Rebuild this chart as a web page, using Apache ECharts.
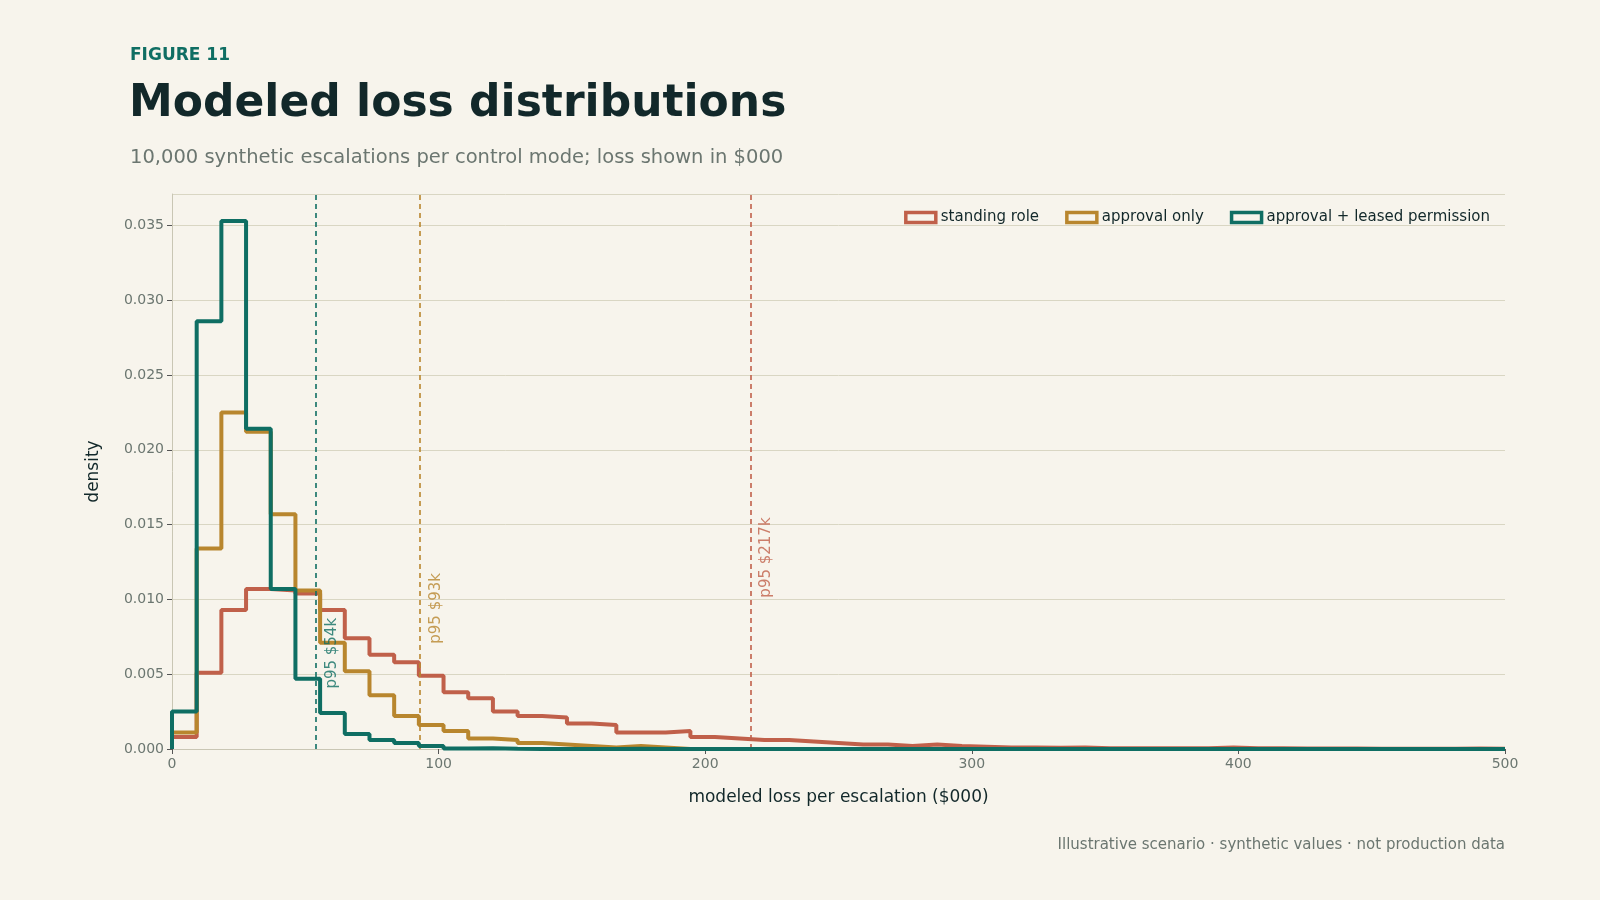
<!DOCTYPE html>
<html><head><meta charset="utf-8">
<script src="https://cdn.jsdelivr.net/npm/echarts@6/dist/echarts.min.js"></script>
<style>html,body{margin:0;background:#f7f4ec}#c{width:1600px;height:900px}</style>
</head><body><div id="c"></div>
<script>
const binWidth = 500/54;
const standingRole = [0.0008,0.0051,0.0093,0.0107,0.0106,0.0104,0.0093,0.0074,0.0063,0.0058,0.0049,0.0038,0.0034,0.0025,0.0022,0.0021,0.0017,0.0016,0.0011,0.0011,0.0012,0.0008,0.0007,0.0006,0.0006,0.0005,0.0004,0.0003,0.0003,0.0002,0.0003,0.0002,0.00015,0.0001,0.0001,0.00008,0.0001,0.00005,0.00005,0.00005,0.00005,0.00005,0.0001,0.00005,0.00005,0.00004,0.00003,0.00004,0.00002,0.00002,0.00002,0.00002,0.00003,0.00002];
const approvalOnly = [0.0011,0.0134,0.0225,0.0212,0.0157,0.0106,0.0071,0.0052,0.0036,0.0022,0.0016,0.0012,0.0007,0.0006,0.0004,0.0003,0.0002,0.0001,0.0002,0.0001,0,0,0,0,0,0,0,0,0,0,0,0,0,0,0,0,0,0,0,0,0,0,0,0,0,0,0,0,0,0,0,0,0,0];
const approvalLeased = [0.0025,0.0286,0.0353,0.0214,0.0107,0.0047,0.0024,0.0010,0.0006,0.0004,0.0002,0.00003,0.00005,0.00002,0,0,0,0,0.00002,0,0,0,0,0,0,0,0,0,0,0,0,0,0,0,0,0,0,0,0,0,0,0,0,0,0,0,0,0,0,0,0,0,0,0];
const seriesNames = ['standing role','approval only','approval + leased permission'];
const p95 = [217, 93, 54];
const colors = ['#c0604a','#b8862e','#0f6e63'];

function stepPts(arr){
  const pts=[[0,0]];
  arr.forEach((d,i)=>{pts.push([i*binWidth,d]);pts.push([(i+1)*binWidth,d]);});
  pts.push([arr.length*binWidth,0]);
  return pts;
}
const labelY = [0.0128, 0.0094, 0.0064];
const data=[standingRole,approvalOnly,approvalLeased];
const series=[];
data.forEach((arr,i)=>{
  series.push({name:seriesNames[i],type:'line',data:stepPts(arr),symbol:'none',
    lineStyle:{color:colors[i],width:4},itemStyle:{color:colors[i]},z:3+i,
    markLine:{symbol:'none',silent:true,label:{show:false},
      lineStyle:{color:colors[i],type:[5,4],width:1.6},data:[{xAxis:p95[i]}]}});
  series.push({type:'scatter',data:[[p95[i]+6,labelY[i]]],symbolSize:0,silent:true,z:10,
    label:{show:true,formatter:'p95 $'+p95[i]+'k',rotate:90,position:'inside',align:'center',verticalAlign:'middle',
      color:colors[i],fontSize:15,fontFamily:'DejaVu Sans'}});
});
const ch=echarts.init(document.getElementById('c'));
ch.setOption({
  backgroundColor:'#f7f4ec',
  textStyle:{fontFamily:'DejaVu Sans'},
  title:[
    {text:'FIGURE 11',left:125,top:42,textStyle:{color:'#0f6e63',fontSize:17,fontWeight:'bold'}},
    {text:'Modeled loss distributions',left:124,top:78,textStyle:{color:'#12282a',fontSize:44,fontWeight:'bold'}},
    {text:'10,000 synthetic escalations per control mode; loss shown in $000',left:125,top:143,textStyle:{color:'#6b7670',fontSize:19.5,fontWeight:'normal'}}
  ],
  graphic:[{type:'text',right:95,top:838,style:{text:'Illustrative scenario · synthetic values · not production data',fill:'#6b7670',font:'15px DejaVu Sans'}}],
  legend:{right:105,top:205,icon:'rect',itemWidth:30,itemHeight:10,itemGap:26,
    textStyle:{color:'#12282a',fontSize:15},
    data:seriesNames.map((n,i)=>({name:n,itemStyle:{color:'transparent',borderColor:colors[i],borderWidth:3.5}}))},
  grid:{left:172,right:95,top:194,bottom:151},
  xAxis:{type:'value',min:0,max:500,interval:100,name:'modeled loss per escalation ($000)',nameLocation:'middle',nameGap:40,
    nameTextStyle:{color:'#12282a',fontSize:17},
    axisLine:{lineStyle:{color:'#c9c6b4'}},axisTick:{show:true,lineStyle:{color:'#555'}},
    axisLabel:{color:'#6b7670',fontSize:14},splitLine:{show:false}},
  yAxis:{type:'value',min:0,max:0.0371,interval:0.005,name:'density',nameLocation:'middle',nameGap:70,
    nameTextStyle:{color:'#12282a',fontSize:17},
    axisLine:{show:true,lineStyle:{color:'#c9c6b4'}},axisTick:{show:true,lineStyle:{color:'#555'}},
    axisLabel:{color:'#6b7670',fontSize:14,showMaxLabel:false,formatter:v=>v.toFixed(3)},
    splitLine:{lineStyle:{color:'#d9d6c3'}}},
  series
});
</script></body></html>
